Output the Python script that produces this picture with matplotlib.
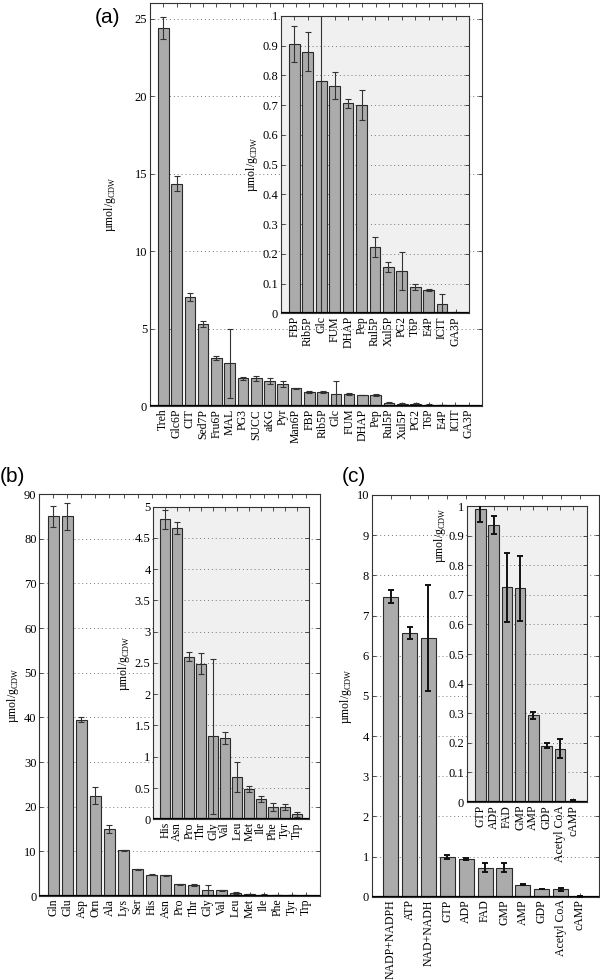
import numpy as np
import matplotlib
matplotlib.use("Agg")
import matplotlib.pyplot as plt
from matplotlib.ticker import FuncFormatter

plt.rcParams['font.family'] = ['Liberation Serif', 'DejaVu Serif']
plt.rcParams['mathtext.fontset'] = 'custom'
plt.rcParams['mathtext.rm'] = 'Liberation Serif'

# ---------------- data ----------------
# (a) central carbon metabolites
a_labels = ['Treh', 'Glc6P', 'CIT', 'Sed7P', 'Fru6P', 'MAL', 'PG3', 'SUCC', 'aKG', 'Pyr',
            'Man6P', 'FBP', 'Rib5P', 'Glc', 'FUM', 'DHAP', 'Pep', 'Rul5P', 'Xul5P', 'PG2',
            'T6P', 'E4P', 'ICIT', 'GA3P']
a_vals = [24.4, 14.35, 7.05, 5.3, 3.1, 2.75, 1.8, 1.78, 1.62, 1.4,
          1.15, 0.905, 0.88, 0.78, 0.765, 0.707, 0.70, 0.223, 0.155, 0.143,
          0.09, 0.078, 0.032, 0.002]
a_errs = [0.7, 0.5, 0.25, 0.2, 0.13, 2.22, 0.09, 0.14, 0.18, 0.2,
          0.04, 0.06, 0.065, 0.82, 0.045, 0.015, 0.05, 0.032, 0.016, 0.064,
          0.01, 0.003, 0.032, 0.002]
a_inset_start = 11

# (b) amino acids
b_labels = ['Gln', 'Glu', 'Asp', 'Orn', 'Ala', 'Lys', 'Ser', 'His', 'Asn', 'Pro',
            'Thr', 'Gly', 'Val', 'Leu', 'Met', 'Ile', 'Phe', 'Tyr', 'Trp']
b_vals = [85.0, 85.0, 39.5, 22.5, 15.0, 10.2, 6.0, 4.8, 4.66, 2.6,
          2.49, 1.33, 1.3, 0.68, 0.48, 0.33, 0.2, 0.2, 0.08]
b_errs = [2.3, 3.0, 0.6, 2.0, 0.8, 0.15, 0.1, 0.15, 0.1, 0.075,
          0.17, 1.24, 0.09, 0.24, 0.05, 0.05, 0.06, 0.045, 0.04]
b_inset_start = 7

# (c) cofactors / nucleotides
c_labels = ['NADP+NADPH', 'ATP', 'NAD+NADH', 'GTP', 'ADP', 'FAD', 'GMP', 'AMP', 'GDP',
            'Acetyl CoA', 'cAMP']
c_vals = [7.47, 6.57, 6.43, 0.99, 0.935, 0.725, 0.722, 0.293, 0.19, 0.18, 0.004]
c_errs = [0.17, 0.15, 1.32, 0.045, 0.03, 0.118, 0.109, 0.012, 0.008, 0.032, 0.002]
c_inset_start = 3

YLABEL = 'µmol/g$_\\mathrm{CDW}$'
BAR_COLOR = '#ababab'
EDGE_COLOR = '#2a2a2a'


def bar_panel(ax, labels, vals, errs, ylim, yticks, bg='white', err_lw=0.8, err_col='#333333', capsize=2.5):
    x = np.arange(1, len(labels) + 1)
    ax.set_facecolor(bg)
    ax.bar(x, vals, width=0.8, color=BAR_COLOR, edgecolor=EDGE_COLOR, linewidth=0.8, zorder=2)
    ax.errorbar(x, vals, yerr=errs, fmt='none', ecolor=err_col, elinewidth=err_lw,
                capsize=capsize, capthick=err_lw, zorder=3)
    ax.axhline(0, color='black', lw=1.6, zorder=4)
    ax.set_xlim(0, len(labels) + 1)
    ax.set_ylim(*ylim)
    ax.set_yticks(yticks)
    ax.yaxis.set_major_formatter(FuncFormatter(lambda v, p: '%g' % round(v, 3)))
    ax.set_xticks(x)
    ax.set_xticklabels(labels, rotation=90)
    ax.tick_params(axis='both', direction='in', top=True, right=True, length=3,
                   width=0.6, color='#333333', pad=2)
    ax.tick_params(axis='y', labelsize=9)
    ax.tick_params(axis='x', labelsize=8.5)
    ax.grid(axis='y', linestyle=(0, (1, 3)), color='#777777', linewidth=0.7)
    ax.set_axisbelow(True)
    for s in ax.spines.values():
        s.set_color('#333333')
        s.set_linewidth(0.8)
    ax.set_ylabel(YLABEL, fontsize=8.5, labelpad=2)


fig = plt.figure(figsize=(6, 9.8), dpi=100)

# ---- panel (a) ----
ax_a = fig.add_axes([0.25, 0.5857, 0.5533, 0.4112])
bar_panel(ax_a, a_labels, a_vals, a_errs, (0, 26), [0, 5, 10, 15, 20, 25])
ax_a.yaxis.set_label_coords(-0.095, 0.5)
ax_a_in = fig.add_axes([0.4683, 0.6803, 0.3133, 0.3034])
bar_panel(ax_a_in, a_labels[a_inset_start:], a_vals[a_inset_start:], a_errs[a_inset_start:],
          (0, 1), np.arange(0, 1.01, 0.1), bg='#f0f0f0')
fig.text(95 / 600, 1 - 23 / 980, '(a)', fontsize=15, family='Liberation Sans')

# ---- panel (b) ----
ax_b = fig.add_axes([0.0655, 0.0857, 0.4678, 0.4102])
bar_panel(ax_b, b_labels, b_vals, b_errs, (0, 90), np.arange(0, 91, 10))
ax_b_in = fig.add_axes([0.2555, 0.1640, 0.2595, 0.3190])
bar_panel(ax_b_in, b_labels[b_inset_start:], b_vals[b_inset_start:], b_errs[b_inset_start:],
          (0, 5), np.arange(0, 5.01, 0.5), bg='#f0f0f0')
fig.text(0 / 600, 1 - 482 / 980, '(b)', fontsize=15, family='Liberation Sans')

# ---- panel (c) ----
ax_c = fig.add_axes([0.6195, 0.085, 0.378, 0.4099])
bar_panel(ax_c, c_labels, c_vals, c_errs, (0, 10), np.arange(0, 10.1, 1),
          err_lw=1.4, err_col='#111111', capsize=2)
ax_c_in = fig.add_axes([0.7783, 0.1816, 0.1992, 0.3020])
bar_panel(ax_c_in, c_labels[c_inset_start:], c_vals[c_inset_start:], c_errs[c_inset_start:],
          (0, 1), np.arange(0, 1.01, 0.1), bg='#f0f0f0', err_lw=1.4, err_col='#111111', capsize=2)
ax_c_in.yaxis.set_label_coords(-0.16, 0.9)
fig.text(342 / 600, 1 - 482 / 980, '(c)', fontsize=15, family='Liberation Sans')

fig.savefig('out.png', dpi=100)
